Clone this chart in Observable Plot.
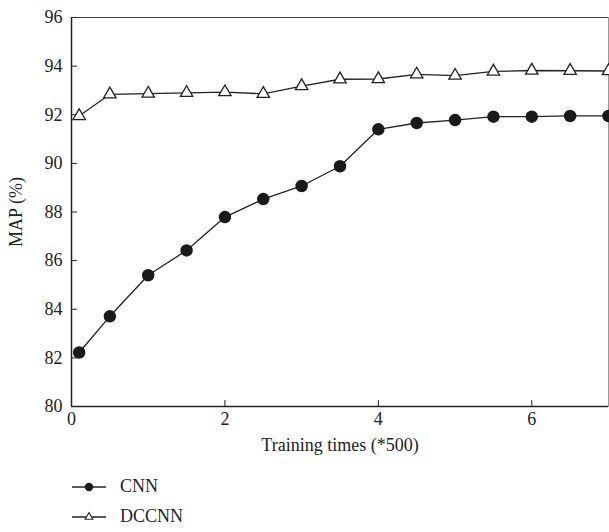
<!DOCTYPE html>
<html>
<head>
<meta charset="utf-8">
<script src="https://cdn.jsdelivr.net/npm/d3@7"></script>
<script src="https://cdn.jsdelivr.net/npm/@observablehq/plot@0.6"></script>
<style>
  html, body { margin: 0; padding: 0; background: #fff; overflow: hidden; }
  body { width: 609px; height: 532px; font-family: "Liberation Serif", "DejaVu Serif", serif; }
  #legend { position: relative; height: 72px; font-size: 18px; color: #222; }
  .item { position: absolute; left: 71px; display: flex; align-items: center; }
  .item svg { display: block; }
  .item span { margin-left: 13px; }
</style>
</head>
<body>
<div id="chart"></div>
<div id="legend"></div>
<script>
const xValues = [0.1, 0.5, 1, 1.5, 2, 2.5, 3, 3.5, 4, 4.5, 5, 5.5, 6, 6.5, 7];
const cnnValues = [82.22, 83.71, 85.40, 86.42, 87.79, 88.53, 89.07, 89.88, 91.40, 91.66, 91.78, 91.92, 91.92, 91.95, 91.95];
const dccnnValues = [91.95, 92.84, 92.87, 92.90, 92.93, 92.86, 93.18, 93.46, 93.47, 93.66, 93.61, 93.78, 93.82, 93.81, 93.80];
const seriesNames = ["CNN", "DCCNN"];
const xTicks = [0, 2, 4, 6];
const yTicks = [80, 82, 84, 86, 88, 90, 92, 94, 96];

const cnn = xValues.map((x, i) => ({x, y: cnnValues[i], s: seriesNames[0]}));
const dccnn = xValues.map((x, i) => ({x, y: dccnnValues[i], s: seriesNames[1]}));

const chart = Plot.plot({
  width: 609,
  height: 460,
  marginLeft: 71,
  marginRight: 1,
  marginTop: 17,
  marginBottom: 54,
  style: {fontFamily: "Liberation Serif, DejaVu Serif, serif", fontSize: "18px", color: "#222", background: "#fff", overflow: "visible"},
  x: {domain: [0, 7], ticks: xTicks, tickFormat: d3.format("d")},
  y: {domain: [80, 96], ticks: yTicks, tickFormat: d3.format("d")},
  marks: [
    Plot.frame({stroke: "#999", strokeWidth: 1}),
    Plot.ruleY([80], {stroke: "#222", strokeWidth: 1.5}),
    Plot.ruleX([0], {stroke: "#222", strokeWidth: 1.5}),
    Plot.ruleY([96], {stroke: "#444", strokeWidth: 1.2}),
    Plot.axisY({ticks: yTicks, tickSize: 6, dx: 6, text: null, label: null, stroke: "#222"}),
    Plot.axisY({ticks: yTicks, tickSize: 0, tickPadding: 9, tickFormat: d3.format("d"), label: "MAP (%)", labelAnchor: "center", labelArrow: "none", labelOffset: 62, fontSize: 18}),
    Plot.axisX({ticks: xTicks, tickSize: 6, dy: -6, text: null, label: null, stroke: "#222"}),
    Plot.axisX({ticks: xTicks, tickSize: 0, tickPadding: 6, tickFormat: d3.format("d"), label: "Training times (*500)", labelAnchor: "center", labelArrow: "none", labelOffset: 44, fontSize: 18}),
    Plot.line(dccnn, {x: "x", y: "y", stroke: "#222", strokeWidth: 1.3}),
    Plot.line(cnn, {x: "x", y: "y", stroke: "#222", strokeWidth: 1.3}),
    Plot.dot(dccnn, {x: "x", y: "y", symbol: "triangle", r: 4.6, fill: "#fff", stroke: "#222", strokeWidth: 1.3}),
    Plot.dot(cnn, {x: "x", y: "y", symbol: "circle", r: 5.5, fill: "#1a1a1a", stroke: "#1a1a1a"})
  ]
});
document.getElementById("chart").appendChild(chart);

// legend
const legend = d3.select("#legend");
const tops = [16, 46];
seriesNames.forEach((name, i) => {
  const item = legend.append("div").attr("class", "item").style("top", tops[i] + "px");
  const svg = item.append("svg").attr("width", 36).attr("height", 16);
  svg.append("line").attr("x1", 1).attr("x2", 35).attr("y1", 8).attr("y2", 8).attr("stroke", "#222").attr("stroke-width", 1.3);
  if (i === 0) {
    svg.append("circle").attr("cx", 18).attr("cy", 8).attr("r", 4.2).attr("fill", "#1a1a1a");
  } else {
    svg.append("path").attr("d", d3.symbol(d3.symbolTriangle, 26)()).attr("transform", "translate(18,8)").attr("fill", "#fff").attr("stroke", "#222").attr("stroke-width", 1.1);
  }
  item.append("span").text(name);
});
</script>
</body>
</html>
